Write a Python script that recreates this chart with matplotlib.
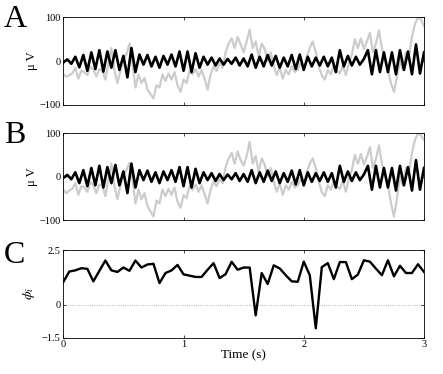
import numpy as np
import matplotlib
matplotlib.use("Agg")
import matplotlib.pyplot as plt

plt.rcParams['font.family'] = ['Liberation Serif', 'DejaVu Serif']
plt.rcParams['mathtext.fontset'] = 'stix'

# ---------------- data ----------------
# raw EEG (gray), sampled every 0.025 s from 0 to 3 s
gray_a = [-30, -35, -32, -28, -15, -40, -22, -25, -32, -12,
          -20, -35, -18, -22, -42, -5, 30, -20, -50, -22,
          5, 15, 40, -5, -60, -30, -50, -38, -65, -75,
          -85, -55, -60, -30, -45, -28, -42, -25, -55, -70,
          -42, -50, -22, -30, -18, -35, -20, -40, -65, -30,
          -12, -22, -5, -15, 20, 40, 52, 30, 55, 38,
          20, 45, 72, 30, 45, 10, 40, 28, 0, 20,
          -10, -32, -15, -40, -20, -30, -12, -25, -20, -5,
          -18, 10, 30, 45, 20, -12, -32, -42, -20, -30,
          -10, -22, -28, -10, -32, -5, 15, 50, 30, 52,
          28, 45, 65, 20, 40, 70, 30, 5, -20, -50,
          -70, -35, 0, -20, 20, 10, 55, 85, 100, 95,
          80]
gray_b = [-30, -38, -32, -28, -15, -42, -22, -25, -35, -12,
          -20, -38, -18, -22, -45, -5, 30, -20, -52, -22,
          5, 15, 32, -5, -62, -30, -52, -38, -68, -80,
          -92, -55, -62, -30, -45, -28, -42, -25, -58, -72,
          -42, -50, -22, -30, -18, -35, -20, -40, -62, -30,
          -12, -22, -5, -15, 22, 42, 55, 30, 58, 38,
          25, 48, 80, 30, 48, 10, 42, 28, 0, 20,
          -10, -35, -15, -42, -20, -30, -12, -25, -20, -5,
          -18, 10, 30, 42, 20, -12, -35, -45, -20, -30,
          -10, -22, -28, -10, -35, -5, 15, 50, 30, 52,
          28, 45, 68, 20, 40, 72, 30, 5, -20, -60,
          -92, -50, 0, -20, 20, 10, 55, 85, 100, 95,
          85]

# filtered signal (black), alternating extrema every 1/30 s
black_a = [-3, 4, -6, 10, -14, 14, -22, 20, -18, 25,
           -24, 22, -15, 25, -20, 12, -37, 30, -25, 15,
           -8, 14, -12, 10, -15, 12, -8, 15, -12, 22,
           -22, 22, -25, 18, -15, 10, -8, 8, -10, 6,
           -8, 5, -6, 8, -10, 6, -12, 15, -15, 10,
           -12, 14, -10, 12, -15, 8, -12, 14, -18, 15,
           -20, 10, -12, 8, -10, 10, -12, 8, -25, 25,
           -12, 12, -10, 10, -8, 5, 25, -30, 25, -25,
           20, -25, 20, -30, 25, -20, 22, -30, 38, -28,
           20]
black_b = [-3, 4, -6, 10, -15, 15, -22, 20, -20, 25,
           -25, 22, -15, 27, -20, 12, -38, 30, -25, 15,
           -8, 14, -12, 10, -15, 12, -8, 15, -12, 22,
           -22, 22, -25, 18, -15, 10, -8, 8, -10, 6,
           -8, 5, -6, 8, -10, 6, -12, 15, -15, 10,
           -12, 14, -10, 12, -15, 8, -12, 14, -18, 15,
           -20, 10, -12, 8, -10, 10, -12, 8, -25, 25,
           -12, 12, -10, 10, -8, 5, 25, -30, 25, -25,
           20, -25, 20, -32, 25, -20, 22, -32, 38, -30,
           20]

# instantaneous phase, every 0.05 s
phase = [1.04, 1.52, 1.57, 1.67, 1.64, 1.07, 1.55, 2.02, 1.57, 1.5,
         1.7, 1.55, 2.02, 1.7, 1.84, 1.87, 0.99, 1.45, 1.57, 1.82,
         1.39, 1.33, 1.27, 1.27, 1.6, 1.9, 1.22, 1.4, 1.96, 1.6,
         1.7, 1.7, -0.48, 1.45, 0.95, 1.8, 1.66, 1.35, 1.07, 1.05,
         1.97, 1.35, -1.07, 1.72, 1.9, 1.17, 1.95, 1.95, 1.17, 1.38,
         2.03, 1.97, 1.65, 1.35, 2.03, 1.3, 1.78, 1.45, 1.45, 1.85,
         1.5]

t_end = 3.0
xticks = [0, 1, 2, 3]
uv_ticks = [-100, 0, 100]
phase_ticks = [-1.5, 0, 2.5]

# ---------------- figure ----------------
fig = plt.figure(figsize=(4.43, 3.74), dpi=100)
W, H = 443, 374

def ax_at(left, top, right, bottom):
    return fig.add_axes([left / W, 1 - bottom / H, (right - left) / W, (bottom - top) / H])

axA = ax_at(63.3, 17.3, 424, 105)
axB = ax_at(63.3, 133.3, 424, 220)
axC = ax_at(63.3, 250, 424, 337.7)

gray_col = '#cccccc'

def style(ax):
    ax.tick_params(direction='in', top=True, right=True, length=2.5, width=0.5,
                   labelsize=7.5, pad=2)
    for s in ax.spines.values():
        s.set_linewidth(0.6)
    ax.set_xlim(0, t_end)
    ax.set_xticks(xticks)

for ax, g, b, letter in [(axA, gray_a, black_a, 'A'), (axB, gray_b, black_b, 'B')]:
    tg = np.linspace(0, t_end, len(g))
    tb = np.linspace(0, t_end, len(b))
    ax.plot(tg, g, color=gray_col, lw=1.6, zorder=1)
    ax.plot(tb, b, color='black', lw=1.9, zorder=2)
    ax.set_ylim(-100, 100)
    ax.set_yticks(uv_ticks)
    style(ax)
    ax.set_xticklabels([])
    ax.set_ylabel('μ V', fontsize=9, labelpad=1)
    fig.text(4 / W, 1 - 27 / H if letter == 'A' else 1 - 143 / H, letter,
             fontsize=23, ha='left', va='baseline')

tp = np.linspace(0, t_end, len(phase))
axC.axhline(0, color='#999999', lw=0.6, ls=':', zorder=1)
axC.plot(tp, phase, color='black', lw=1.7, zorder=2)
axC.set_ylim(-1.5, 2.5)
axC.set_yticks(phase_ticks)
axC.set_yticklabels(['−1.5', '0', '2.5'])
style(axC)
axC.set_xticklabels([str(v) for v in xticks])
axC.set_xlabel('Time (s)', fontsize=9.5, labelpad=0)
axC.set_ylabel(r'$\phi_i$', fontsize=10, labelpad=3)
fig.text(4 / W, 1 - 263 / H, 'C', fontsize=23, ha='left', va='baseline')

fig.savefig('out.png', dpi=100)
